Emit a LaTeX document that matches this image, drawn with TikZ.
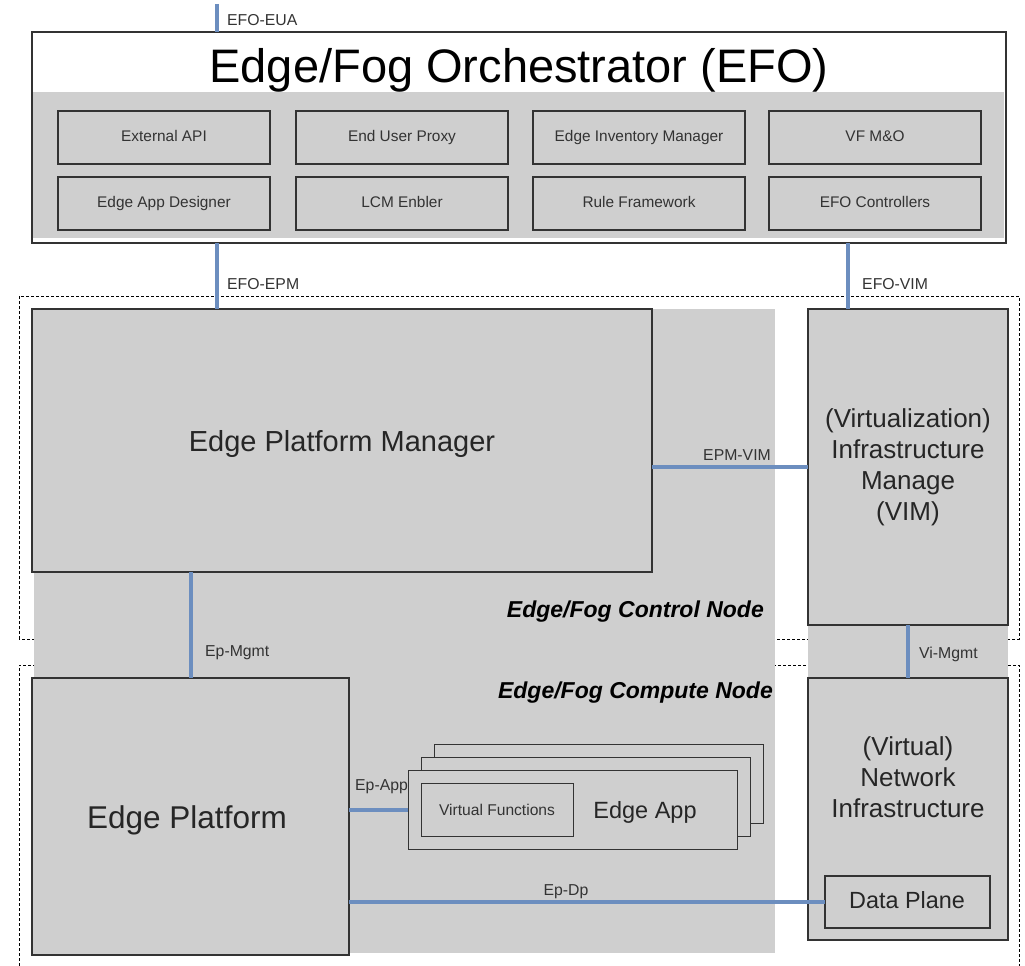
\documentclass[tikz,border=0pt]{standalone}
\usepackage{fontspec}
\setmainfont{Liberation Sans}
\definecolor{panel}{HTML}{CFCFCF}
\definecolor{edge}{HTML}{333333}
\definecolor{link}{HTML}{6C8EBF}
\definecolor{lbl}{HTML}{333333}
\tikzset{
  box/.style={draw=edge, line width=1.2pt, fill=panel, inner sep=0pt, outer sep=0pt, anchor=north west, align=center, text=black!85},
  subbox/.style={box, minimum width=212pt, minimum height=53pt, font=\fontsize{15.4}{18}\selectfont, text=lbl, text height=11pt, text depth=3.5pt},
  linkline/.style={draw=link, line width=4pt},
  tag/.style={font=\fontsize{15.8}{18}\selectfont, text=lbl, inner sep=0pt},
  zone/.style={draw=black, line width=0.8pt, dash pattern=on 3pt off 2pt},
  zonetitle/.style={font=\fontsize{23}{27}\selectfont\bfseries\itshape, inner sep=0pt, anchor=base east},
  bigtext/.style={inner sep=0pt, text=black!85, anchor=base},
}
\begin{document}
\begin{tikzpicture}[x=1pt,y=-1pt]
\useasboundingbox (0,0) rectangle (1025,966);

% node zones (dashed)
\draw[zone] (19,639) -- (19,296) -- (1019,296) -- (1019,639) -- cycle;
\draw[zone] (19,966) -- (19,665) -- (1019,665) -- (1019,966);

% grey backgrounds of the node columns
\fill[panel] (34,309) rectangle (775,953);
\fill[panel] (808,309) rectangle (1008,937);

% orchestrator
\node[draw=edge, line width=1.2pt, fill=white, minimum width=974pt, minimum height=211pt, anchor=north west, inner sep=0pt, outer sep=0pt] (efo) at (32,32) {};
\fill[panel] (33,92) rectangle (1004,238);
\node[bigtext, text=black, font=\fontsize{47}{54}\selectfont] (efotitle) at (519,82) {Edge/Fog Orchestrator (EFO)};

\node[subbox] (extapi)   at (58,111)  {External API};
\node[subbox] (proxy)    at (296,111) {End User Proxy};
\node[subbox] (inv)      at (533,111) {Edge Inventory Manager};
\node[subbox] (vfmo)     at (769,111) {VF M\&O};
\node[subbox] (designer) at (58,177)  {Edge App Designer};
\node[subbox] (lcm)      at (296,177) {LCM Enbler};
\node[subbox] (rules)    at (533,177) {Rule Framework};
\node[subbox] (ctrl)     at (769,177) {EFO Controllers};

% control node
\node[box, minimum width=620pt, minimum height=263pt] (epm) at (32,309) {};
\node[bigtext, font=\fontsize{29}{34}\selectfont] (epmtext) at (342,451) {Edge Platform Manager};
\node[box, minimum width=200pt, minimum height=316pt, font=\fontsize{26}{31}\selectfont] (vim) at (808,309) {(Virtualization)\\Infrastructure\\Manage\\(VIM)};
\node[zonetitle] (ctrlzone) at (764,617) {Edge/Fog Control Node};

% compute node
\node[zonetitle] (compzone) at (773,698) {Edge/Fog Compute Node};
\node[box, minimum width=317pt, minimum height=277pt] (ep) at (32,678) {};
\node[bigtext, font=\fontsize{31.5}{36}\selectfont] (eptext) at (187,828) {Edge Platform};
\node[box, line width=1pt, minimum width=329pt, minimum height=79pt] (app3) at (434,744) {};
\node[box, line width=1pt, minimum width=329pt, minimum height=79pt] (app2) at (421,757) {};
\node[box, line width=1pt, minimum width=329pt, minimum height=79pt] (app1) at (408,770) {};
\node[box, line width=1pt, minimum width=152pt, minimum height=53pt, font=\fontsize{15.6}{18}\selectfont, text=lbl] (vf) at (421,783) {Virtual Functions};
\node[bigtext, font=\fontsize{23.5}{28}\selectfont] (apptext) at (645,818) {Edge App};

\node[box, minimum width=200pt, minimum height=262pt] (ni) at (808,678) {};
\node[align=center, inner sep=0pt, text=black!85, font=\fontsize{26}{31}\selectfont] (nitext) at (908,777) {(Virtual)\\Network\\Infrastructure};
\node[box, minimum width=165pt, minimum height=52pt] (dp) at (825,876) {};
\node[bigtext, font=\fontsize{23.4}{28}\selectfont] (dptext) at (907,908) {Data Plane};

% reference points for interfaces
\coordinate (euatop) at (217,4);
\coordinate (epmx) at (217,0);
\coordinate (vimx) at (848,0);

% interfaces
\draw[linkline] (euatop) -- (efo.north -| euatop);
\draw[linkline] (efo.south -| epmx) -- (epm.north -| epmx);
\draw[linkline] (efo.south -| vimx) -- (vim.north -| vimx);
\draw[linkline] (epm.east |- vim.west) -- (vim.west);
\draw[linkline] (ep.north |- epm.south) -- (ep.north);
\draw[linkline] (vim.south) -- (ni.north);
\draw[linkline] (ep.east |- app1.west) -- (app1.west);
\draw[linkline] (ep.east |- dp.west) -- (dp.west);

% interface labels
\node[tag, anchor=base west] (leua) at (227,26) {EFO-EUA};
\node[tag, anchor=base west] (lepm) at (227,289) {EFO-EPM};
\node[tag, anchor=base west] (lvim) at (862,289) {EFO-VIM};
\node[tag, anchor=base] (lepmvim) at (737,460) {EPM-VIM};
\node[tag, anchor=base west] (lmgmt) at (205,656) {Ep-Mgmt};
\node[tag, anchor=base west] (lvimgmt) at (919,658) {Vi-Mgmt};
\node[tag, anchor=base west] (lapp) at (355,790) {Ep-App};
\node[tag, anchor=base] (ldp) at (566,895) {Ep-Dp};
\end{tikzpicture}
\end{document}
